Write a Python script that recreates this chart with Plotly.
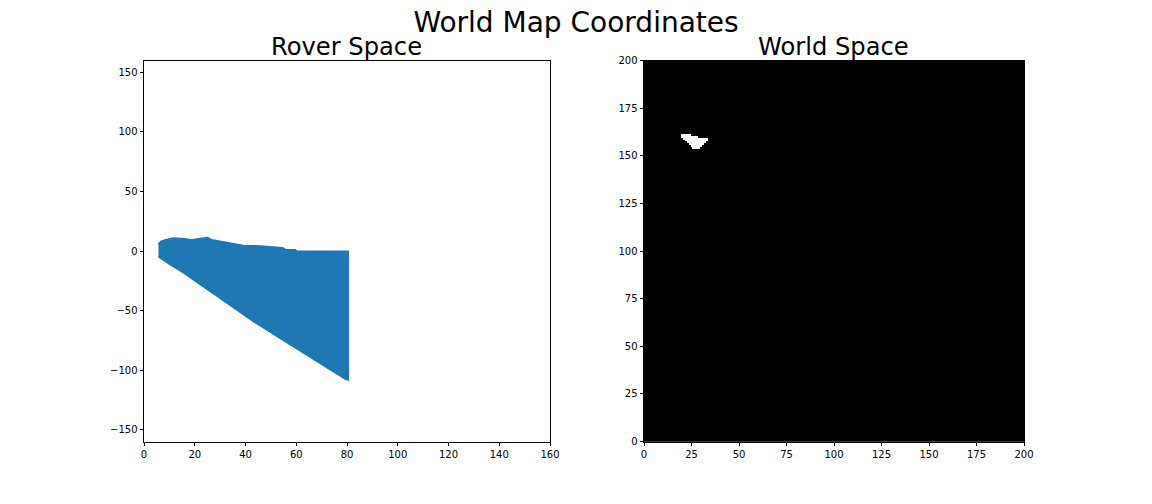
import plotly.graph_objects as go

TITLE = "World Map Coordinates"
LEFT_TITLE = "Rover Space"
RIGHT_TITLE = "World Space"

# Outline of the rover-space point cloud
rover_x = [5.7, 6.7, 8.5, 11.6, 16.2, 18.8, 21.4, 25.0, 26.7, 30.6, 35.2, 39.1, 45.7,
           51.0, 54.6, 55.6, 59.5, 60.4, 80.4, 80.4, 79.5, 64.1, 43.1, 24.0, 15.5, 10.2, 5.7]
rover_y = [5.6, 7.9, 9.3, 10.7, 10.1, 9.0, 10.1, 11.2, 9.3, 7.9, 6.2, 4.5, 4.0,
           3.4, 2.6, 1.1, 0.9, -0.5, -0.5, -108.0, -107.5, -87.0, -59.0, -30.6, -18.0, -11.0, -4.5]

# World-space white pixels, per row: row, first column, last column
world_rows = [161, 160, 159, 158, 157, 156, 155, 154]
world_first = [20, 20, 21, 22, 23, 24, 25, 26]
world_last = [24, 28, 33, 33, 32, 31, 30, 29]

left_ticks_x = [0, 20, 40, 60, 80, 100, 120, 140, 160]
left_ticks_y = [-150, -100, -50, 0, 50, 100, 150]
right_ticks = [0, 25, 50, 75, 100, 125, 150, 175, 200]

z = [[0] * 201 for _ in range(201)]
for r, a, b in zip(world_rows, world_first, world_last):
    for c in range(a, b + 1):
        z[r][c] = 1

FONT = "DejaVu Sans"
fig = go.Figure()
fig.add_trace(go.Scatter(x=rover_x, y=rover_y, mode="lines", fill="toself",
                         fillcolor="#1f77b4", line=dict(color="#1f77b4", width=2),
                         xaxis="x", yaxis="y", showlegend=False))
fig.add_trace(go.Heatmap(z=z, colorscale=[[0, "black"], [1, "white"]], zmin=0, zmax=1,
                         showscale=False, xaxis="x2", yaxis="y2"))

axis_style = dict(showgrid=False, zeroline=False, showline=True, linecolor="black", linewidth=1,
                  mirror=True, ticks="outside", ticklen=3.5, tickwidth=1, tickcolor="black",
                  automargin=False,
                  tickfont=dict(family=FONT, size=10, color="black"), tickmode="array")

fig.update_layout(
    width=1152, height=504, autosize=False,
    paper_bgcolor="white", plot_bgcolor="white",
    margin=dict(l=0, r=0, t=0, b=0),
    font=dict(family=FONT, color="black"),
    title=dict(text=TITLE, x=0.5, xanchor="center", y=1 - 22 / 504, yanchor="middle",
               font=dict(family=FONT, size=28, color="black")),
    xaxis=dict(domain=[144 / 1152, 550 / 1152], range=[0, 160], tickvals=left_ticks_x, anchor="y", **axis_style),
    yaxis=dict(domain=[62.5 / 504, 443.5 / 504], range=[-160, 160], tickvals=left_ticks_y, anchor="x", **axis_style),
    xaxis2=dict(domain=[644 / 1152, 1024 / 1152], range=[0, 200], tickvals=right_ticks, anchor="y2", **axis_style),
    yaxis2=dict(domain=[62.5 / 504, 443.5 / 504], range=[0, 200], tickvals=right_ticks, anchor="x2", **axis_style),
    shapes=[dict(type="rect", xref="x2 domain", yref="y2 domain", x0=0, x1=1, y0=0, y1=1,
                 fillcolor="black", line=dict(width=0), layer="below")],
    annotations=[
        dict(text=LEFT_TITLE, xref="paper", yref="paper", x=346.5 / 1152, y=1 - 47 / 504, showarrow=False,
             xanchor="center", yanchor="middle", font=dict(family=FONT, size=24.2, color="black")),
        dict(text=RIGHT_TITLE, xref="paper", yref="paper", x=833.5 / 1152, y=1 - 47 / 504, showarrow=False,
             xanchor="center", yanchor="middle", font=dict(family=FONT, size=24.2, color="black")),
    ],
)
fig.write_html("out.html", config={"displayModeBar": False},
               post_script="document.body.style.margin='0';document.documentElement.style.overflow='hidden';Plotly.relayout(document.getElementById('{plot_id}'),{width:1152,height:504});")
